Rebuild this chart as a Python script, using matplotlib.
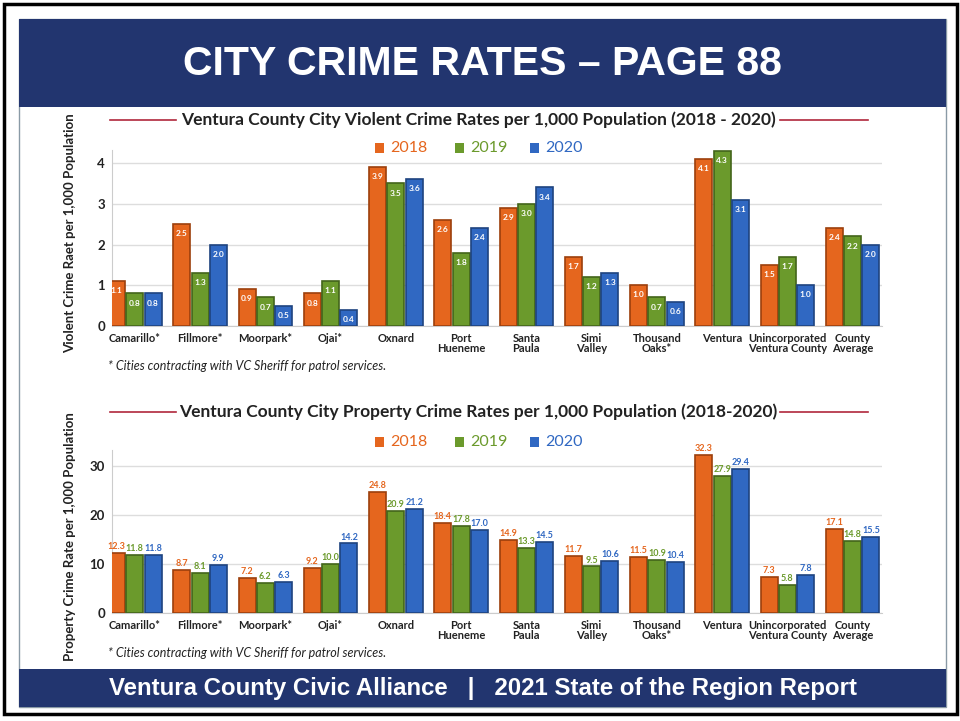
import numpy as np
import matplotlib
matplotlib.use('Agg')
import matplotlib.pyplot as plt
from matplotlib.patches import Rectangle

cities = ['Camarillo*', 'Fillmore*', 'Moorpark*', 'Ojai*', 'Oxnard', 'Port\nHueneme',
          'Santa\nPaula', 'Simi\nValley', 'Thousand\nOaks*', 'Ventura',
          'Unincorporated\nVentura County', 'County\nAverage']
years = ['2018', '2019', '2020']

violent_2018 = [1.1, 2.5, 0.9, 0.8, 3.9, 2.6, 2.9, 1.7, 1.0, 4.1, 1.5, 2.4]
violent_2019 = [0.8, 1.3, 0.7, 1.1, 3.5, 1.8, 3.0, 1.2, 0.7, 4.3, 1.7, 2.2]
violent_2020 = [0.8, 2.0, 0.5, 0.4, 3.6, 2.4, 3.4, 1.3, 0.6, 3.1, 1.0, 2.0]

property_2018 = [12.3, 8.7, 7.2, 9.2, 24.8, 18.4, 14.9, 11.7, 11.5, 32.3, 7.3, 17.1]
property_2019 = [11.8, 8.1, 6.2, 10.0, 20.9, 17.8, 13.3, 9.5, 10.9, 27.9, 5.8, 14.8]
property_2020 = [11.8, 9.9, 6.3, 14.2, 21.2, 17.0, 14.5, 10.6, 10.4, 29.4, 7.8, 15.5]

colors = ['#e5661e', '#6b9a2c', '#3068c2']
edges = ['#9c3f0c', '#43651a', '#1e437f']
navy = '#22356f'
FONT = 'Lato'

fig = plt.figure(figsize=(9.6, 7.21), dpi=100)

def px(x, y):
    return x / 960, 1 - y / 721

# frame, banner, footer
fig.patches.append(Rectangle((4 / 960, 1 - 714 / 721), 953 / 960, 710 / 721, transform=fig.transFigure,
                             fill=False, edgecolor='black', linewidth=2.5))
fig.patches.append(Rectangle((19 / 960, 1 - 707 / 721), 927 / 960, 688 / 721, transform=fig.transFigure,
                             fill=False, edgecolor='#8a9aa6', linewidth=1))
fig.patches.append(Rectangle((19 / 960, 1 - 107 / 721), 927 / 960, 88 / 721, transform=fig.transFigure,
                             facecolor=navy, edgecolor='none'))
fig.patches.append(Rectangle((19 / 960, 1 - 707 / 721), 927 / 960, 38 / 721, transform=fig.transFigure,
                             facecolor=navy, edgecolor='none'))
fig.text(*px(482, 64), 'CITY CRIME RATES \u2013 PAGE 88', color='white', fontsize=29.5,
         fontweight='bold', family='Liberation Sans', ha='center', va='center')
fig.text(*px(483, 689), 'Ventura County Civic Alliance   |   2021 State of the Region Report',
         color='white', fontsize=17.3, fontweight='bold', family='Liberation Sans',
         ha='center', va='center')


def panel(rect, series, ylim, yticks, ylabel, label_frac, title, title_y, legend_y, note_y, inside):
    ax = fig.add_axes(rect)
    x = np.arange(len(cities))
    w = 0.26
    ymax = ylim
    for i, vals in enumerate(series):
        xs = x + (i - 1) * (w + 0.02)
        ax.bar(xs, vals, w, color=colors[i], edgecolor=edges[i], linewidth=1.2, zorder=3)
        for xi, v in zip(xs, vals):
            if inside:
                ax.text(xi, v - ymax * 0.035, f'{v:.1f}', ha='center', va='top', color='white',
                        fontsize=6, fontweight='bold', family=FONT, zorder=4)
            else:
                ax.text(xi, v + ymax * 0.012, f'{v:.1f}', ha='center', va='bottom', color=colors[i],
                        fontsize=6.5, fontweight='bold', family=FONT, zorder=4)
    ax.set_xlim(-0.35, 11.45)
    ax.set_ylim(0, ylim)
    ax.set_yticks(yticks)
    ax.set_yticklabels([str(t) for t in yticks], fontsize=9.5, fontweight='bold', family=FONT, color='#222222')
    ax.set_xticks(x)
    ax.set_xticklabels(cities, fontsize=8, fontweight='bold', family=FONT, color='#222222',
                       linespacing=0.9)
    ax.tick_params(length=0, pad=5)
    ax.grid(axis='y', color='#dddddd', linewidth=1, zorder=0)
    for s in ['top', 'right']:
        ax.spines[s].set_visible(False)
    ax.spines['left'].set_color('#cccccc')
    ax.spines['bottom'].set_color('#cccccc')
    ax.set_ylabel(ylabel, fontsize=9.5, family=FONT, fontweight='bold', color='#222222')
    ax.yaxis.set_label_coords(-0.047, label_frac)

    fig.text(*px(478, title_y), title, fontsize=12.5, fontweight='bold', family=FONT,
             color='#222222', ha='center', va='center')
    fig.add_artist(plt.Line2D([110 / 960, 176 / 960], [1 - title_y / 721] * 2, color='#b0283c', lw=1.2))
    fig.add_artist(plt.Line2D([780 / 960, 868 / 960], [1 - title_y / 721] * 2, color='#b0283c', lw=1.2))

    lx = [375, 455, 530]
    for i, yr in enumerate(years):
        fig.patches.append(Rectangle(((lx[i]) / 960, 1 - (legend_y + 5) / 721), 9 / 960, 10 / 721,
                                     transform=fig.transFigure, facecolor=colors[i], edgecolor='none'))
        fig.text((lx[i] + 15) / 960, 1 - legend_y / 721, yr, fontsize=11.5, family=FONT,
                 color=colors[i], ha='left', va='center')
    fig.text(*px(108, note_y), '* Cities contracting with VC Sheriff for patrol services.',
             fontsize=9, style='italic', family=FONT, color='#222222', ha='left', va='center')
    return ax


panel([112 / 960, 1 - 326 / 721, 770 / 960, 176 / 721],
      [violent_2018, violent_2019, violent_2020], 4.32, [0, 1, 2, 3, 4],
      'Violent Crime Raet per 1,000 Population', 0.53,
      'Ventura County City Violent Crime Rates per 1,000 Population (2018 - 2020)',
      120, 148, 366, True)
panel([112 / 960, 1 - 613 / 721, 770 / 960, 163 / 721],
      [property_2018, property_2019, property_2020], 33.3, [0, 10, 20, 30],
      'Property Crime Rate per 1,000 Population', 0.47,
      'Ventura County City Property Crime Rates per 1,000 Population (2018-2020)',
      412, 442, 653, False)

fig.savefig('out.png', dpi=100)
